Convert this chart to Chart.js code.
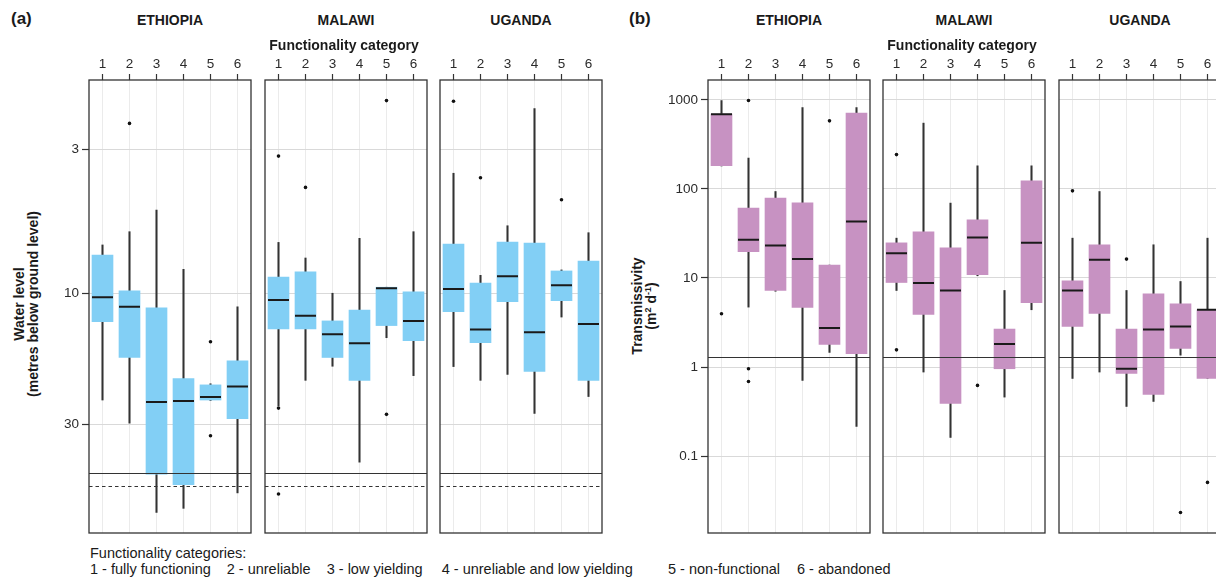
<!DOCTYPE html>
<html>
<head>
<meta charset="utf-8">
<script src="https://cdn.jsdelivr.net/npm/chart.js@4"></script>
<style>
  html, body { margin: 0; padding: 0; background: #fff; }
  body { width: 1216px; height: 579px; overflow: hidden; position: relative;
         font-family: 'Liberation Sans', Arial, sans-serif; color: #1a1a1a; }
  .abs { position: absolute; line-height: 1; white-space: nowrap; }
  .b { font-weight: bold; }
  .facet { position: absolute; }
  .ytitle { position: absolute; width: 320px; text-align: center; font-weight: bold;
            font-size: 14px; line-height: 14px; transform: translate(-50%, -50%) rotate(-90deg); }
  .ytitle sup { font-size: 9px; line-height: 0; vertical-align: 5px; }
</style>
</head>
<body>

<div class="abs b" style="left:11px;top:9.6px;font-size:17px">(a)</div>
<div class="abs b" style="left:629px;top:9.6px;font-size:17px">(b)</div>

<div class="ytitle" style="left:26px;top:304px">Water level<br>(metres below ground level)</div>
<div class="ytitle" style="left:644px;top:306px">Transmissivity<br>(m<sup>2</sup> d<sup>-1</sup>)</div>

<div class="abs" style="left:90px;top:545.7px;font-size:14.5px">Functionality categories:</div>

<script>
// ── Data ─────────────────────────────────────────────────────────
const CATS = ['1', '2', '3', '4', '5', '6'];
const COUNTRIES = ['ETHIOPIA', 'MALAWI', 'UGANDA'];
const CAT_NAMES = ['1 - fully functioning', '2 - unreliable', '3 - low yielding',
                   '4 - unreliable and low yielding', '5 - non-functional', '6 - abandoned'];

// water level, metres below ground level (log, reversed)
const WL_TICKS = [3, 10, 30];
const WL_RANGE = [1.684, 74.1];
const WL_REF = [45, 50];

// transmissivity, m2/d (log)
const T_TICKS = [0.1, 1, 10, 100, 1000];
const T_RANGE = [0.0137, 1671];
const T_REF = [1.3];

// box stats per category: [lower whisker, q1, median, q3, upper whisker]
const ETH_WL = [
  [6.68, 7.27, 10.34, 12.67, 24.4],
  [5.98, 9.81, 11.2, 17.1, 29.6],
  [4.99, 11.3, 24.8, 45.3, 62.4],
  [8.19, 20.4, 24.6, 49.5, 60.3],
  [21.3, 21.5, 23.8, 24.4, 24.5],
  [11.2, 17.6, 21.8, 28.5, 53.0]
];
const MAL_WL = [
  [6.54, 8.73, 10.57, 13.47, 25.6],
  [7.45, 8.37, 12.08, 13.47, 20.7],
  [10.0, 12.6, 14.08, 17.1, 18.4],
  [6.32, 11.5, 15.2, 20.7, 41.0],
  [9.51, 9.51, 9.59, 13.1, 14.5],
  [5.98, 9.89, 12.6, 14.85, 19.9]
];
const UGA_WL = [
  [3.67, 6.63, 9.65, 11.66, 18.45],
  [8.61, 9.18, 13.55, 15.1, 20.7],
  [5.69, 6.52, 8.68, 10.72, 19.7],
  [2.14, 6.57, 13.84, 19.23, 27.3],
  [8.23, 8.30, 9.35, 10.64, 12.2],
  [6.03, 7.64, 12.92, 20.73, 23.7]
];
const ETH_WL_OUT = [['2', 2.42], ['5', 15.0], ['5', 32.9]];
const MAL_WL_OUT = [['1', 3.18], ['1', 26.1], ['1', 53.5], ['2', 4.13], ['5', 2.0], ['5', 27.5]];
const UGA_WL_OUT = [['1', 2.01], ['2', 3.81], ['5', 4.58]];

const ETH_T = [
  [181, 183, 691, 691, 982],
  [4.71, 19.8, 26.8, 60.9, 222],
  [7.1, 7.24, 23.2, 78.8, 93.5],
  [0.707, 4.67, 16.3, 69.8, 820],
  [1.46, 1.79, 2.74, 13.96, 13.96],
  [0.215, 1.41, 43.1, 709, 820]
];
const MAL_T = [
  [7.24, 8.9, 19.0, 24.8, 28.0],
  [0.879, 3.89, 8.77, 33.0, 548],
  [0.162, 0.39, 7.24, 21.8, 69.3],
  [10.6, 10.9, 28.5, 45.0, 181.7],
  [0.46, 0.957, 1.81, 2.67, 7.24],
  [4.40, 5.27, 24.8, 123.3, 181.7]
];
const UGA_T = [
  [0.745, 2.86, 7.24, 9.30, 28.0],
  [0.879, 4.0, 16.0, 23.6, 93.5],
  [0.361, 0.848, 0.957, 2.67, 7.24],
  [0.411, 0.493, 2.64, 6.65, 23.6],
  [1.36, 1.62, 2.86, 5.13, 9.13],
  [0.745, 0.745, 4.40, 4.40, 28.0]
];
const ETH_T_OUT = [['1', 3.97], ['2', 982], ['2', 0.957], ['2', 0.689], ['5', 581]];
const MAL_T_OUT = [['1', 243], ['1', 1.56], ['4', 0.622]];
const UGA_T_OUT = [['1', 95.2], ['3', 16.3], ['5', 0.0233], ['6', 0.0507]];

// ── Layout / style ───────────────────────────────────────────────
const FONT = "'Liberation Sans', Arial, sans-serif";
Chart.defaults.font.family = FONT;

const PLOT_TOP = 80, PLOT_BOTTOM = 533, PLOT_W = 162, AXIS_H = 28;
const BLUE = '#82CFF5';
const PURPLE = '#C792C2';
const INK = '#333333';

// reference lines + panel frame
const framePlugin = {
  id: 'frame',
  afterDatasetsDraw(chart, args, opts) {
    const { ctx, chartArea: a } = chart;
    const y = chart.scales.y;
    ctx.save();
    (opts.lines || []).forEach((v, i) => {
      const py = Math.round(y.getPixelForValue(v)) + 0.5;
      ctx.beginPath();
      ctx.setLineDash(opts.dashed && i === 1 ? [3.5, 3] : []);
      ctx.strokeStyle = INK;
      ctx.lineWidth = 1.1;
      ctx.moveTo(a.left, py);
      ctx.lineTo(a.right, py);
      ctx.stroke();
    });
    ctx.setLineDash([]);
    ctx.strokeStyle = INK;
    ctx.lineWidth = 1.3;
    ctx.strokeRect(a.left, a.top, a.right - a.left, a.bottom - a.top);
    ctx.restore();
  }
};

function noPad(s) {
  s.paddingTop = 0; s.paddingBottom = 0; s.paddingLeft = 0; s.paddingRight = 0;
}

function makeFacet(cfg) {
  const padL = cfg.left ? 50 : 1;
  const div = document.createElement('div');
  div.className = 'facet';
  const w = padL + PLOT_W + 2;
  const h = PLOT_BOTTOM - (PLOT_TOP - AXIS_H) + 2;
  div.style.left = (cfg.plotLeft - padL) + 'px';
  div.style.top = (PLOT_TOP - AXIS_H) + 'px';
  const canvas = document.createElement('canvas');
  canvas.width = w; canvas.height = h;
  canvas.style.width = w + 'px'; canvas.style.height = h + 'px';
  div.appendChild(canvas);
  document.body.appendChild(div);

  const stats = cfg.stats;
  new Chart(canvas, {
    type: 'bar',
    data: {
      labels: CATS,
      datasets: [
        { // whiskers
          type: 'bar', data: stats.map(s => [s[0], s[4]]),
          backgroundColor: INK, barThickness: 1.4, grouped: false, order: 3
        },
        { // boxes
          type: 'bar', data: stats.map(s => [s[1], s[3]]),
          backgroundColor: cfg.fill, barThickness: 21, grouped: false, order: 2
        },
        { // medians
          type: 'line', data: stats.map(s => s[2]), showLine: false,
          pointStyle: 'line', pointRadius: 10.5, pointHoverRadius: 10.5,
          pointBorderWidth: 2, pointBorderColor: '#1a1a1a', order: 1
        },
        { // outliers
          type: 'line', data: cfg.outliers.map(o => ({ x: o[0], y: o[1] })), showLine: false,
          pointRadius: 1.8, pointHoverRadius: 1.8, pointBorderWidth: 0,
          pointBackgroundColor: '#111', order: 0
        }
      ]
    },
    options: {
      responsive: false,
      animation: false,
      events: [],
      layout: { autoPadding: false, padding: { left: 0, top: 0, right: 2, bottom: 2 } },
      plugins: {
        legend: { display: false },
        tooltip: { enabled: false },
        frame: { lines: cfg.refLines, dashed: cfg.dashed }
      },
      scales: {
        x: {
          type: 'category', position: 'top', offset: true,
          grid: { offset: false, color: '#EBEBEB', lineWidth: 1, drawTicks: true,
                  tickLength: 6, tickColor: INK, tickWidth: 1.2 },
          border: { display: false },
          ticks: { font: { size: 13.5 }, color: '#2b2b2b', padding: 2, autoSkip: false, maxRotation: 0 },
          afterFit(s) { s.height = AXIS_H; noPad(s); }
        },
        y: {
          type: 'logarithmic', min: cfg.range[0], max: cfg.range[1], reverse: !!cfg.reverse,
          grid: { color: '#D9D9D9', lineWidth: 1, drawTicks: !!cfg.left,
                  tickLength: 7, tickColor: INK, tickWidth: 1.2 },
          border: { display: false },
          ticks: { display: !!cfg.left, font: { size: 13.5 }, color: '#2b2b2b', padding: 3,
                   callback: v => String(v) },
          afterBuildTicks(s) { s.ticks = cfg.ticks.map(v => ({ value: v })); },
          afterFit(s) { s.width = padL; noPad(s); }
        }
      }
    },
    plugins: [framePlugin]
  });
}

function addText(text, x, y, size, bold, center) {
  const d = document.createElement('div');
  d.className = 'abs' + (bold ? ' b' : '');
  d.textContent = text;
  d.style.fontSize = size + 'px';
  d.style.top = y + 'px';
  if (center) {
    d.style.left = (x - 200) + 'px';
    d.style.width = '400px';
    d.style.textAlign = 'center';
  } else {
    d.style.left = x + 'px';
  }
  document.body.appendChild(d);
}

const PANEL_A = [89, 265, 440];
const PANEL_B = [708, 883, 1059];
const WL_STATS = [ETH_WL, MAL_WL, UGA_WL];
const WL_OUT = [ETH_WL_OUT, MAL_WL_OUT, UGA_WL_OUT];
const T_STATS = [ETH_T, MAL_T, UGA_T];
const T_OUT = [ETH_T_OUT, MAL_T_OUT, UGA_T_OUT];

COUNTRIES.forEach((name, i) => {
  makeFacet({ plotLeft: PANEL_A[i], left: i === 0, stats: WL_STATS[i], outliers: WL_OUT[i],
              fill: BLUE, range: WL_RANGE, reverse: true, ticks: WL_TICKS,
              refLines: WL_REF, dashed: true });
  makeFacet({ plotLeft: PANEL_B[i], left: i === 0, stats: T_STATS[i], outliers: T_OUT[i],
              fill: PURPLE, range: T_RANGE, reverse: false, ticks: T_TICKS,
              refLines: T_REF, dashed: false });
  addText(name, PANEL_A[i] + PLOT_W / 2, 13.2, 14, true, true);
  addText(name, PANEL_B[i] + PLOT_W / 2, 13.2, 14, true, true);
});
addText('Functionality category', PANEL_A[1] + PLOT_W / 2 - 2, 38, 14, true, true);
addText('Functionality category', PANEL_B[1] + PLOT_W / 2 - 2, 38, 14, true, true);

// legend line 2
const LEGEND_X = [90, 226.7, 326.7, 441.7, 668, 797];
CAT_NAMES.forEach((t, i) => addText(t, LEGEND_X[i], 562, 14.5, false, false));
</script>
</body>
</html>
